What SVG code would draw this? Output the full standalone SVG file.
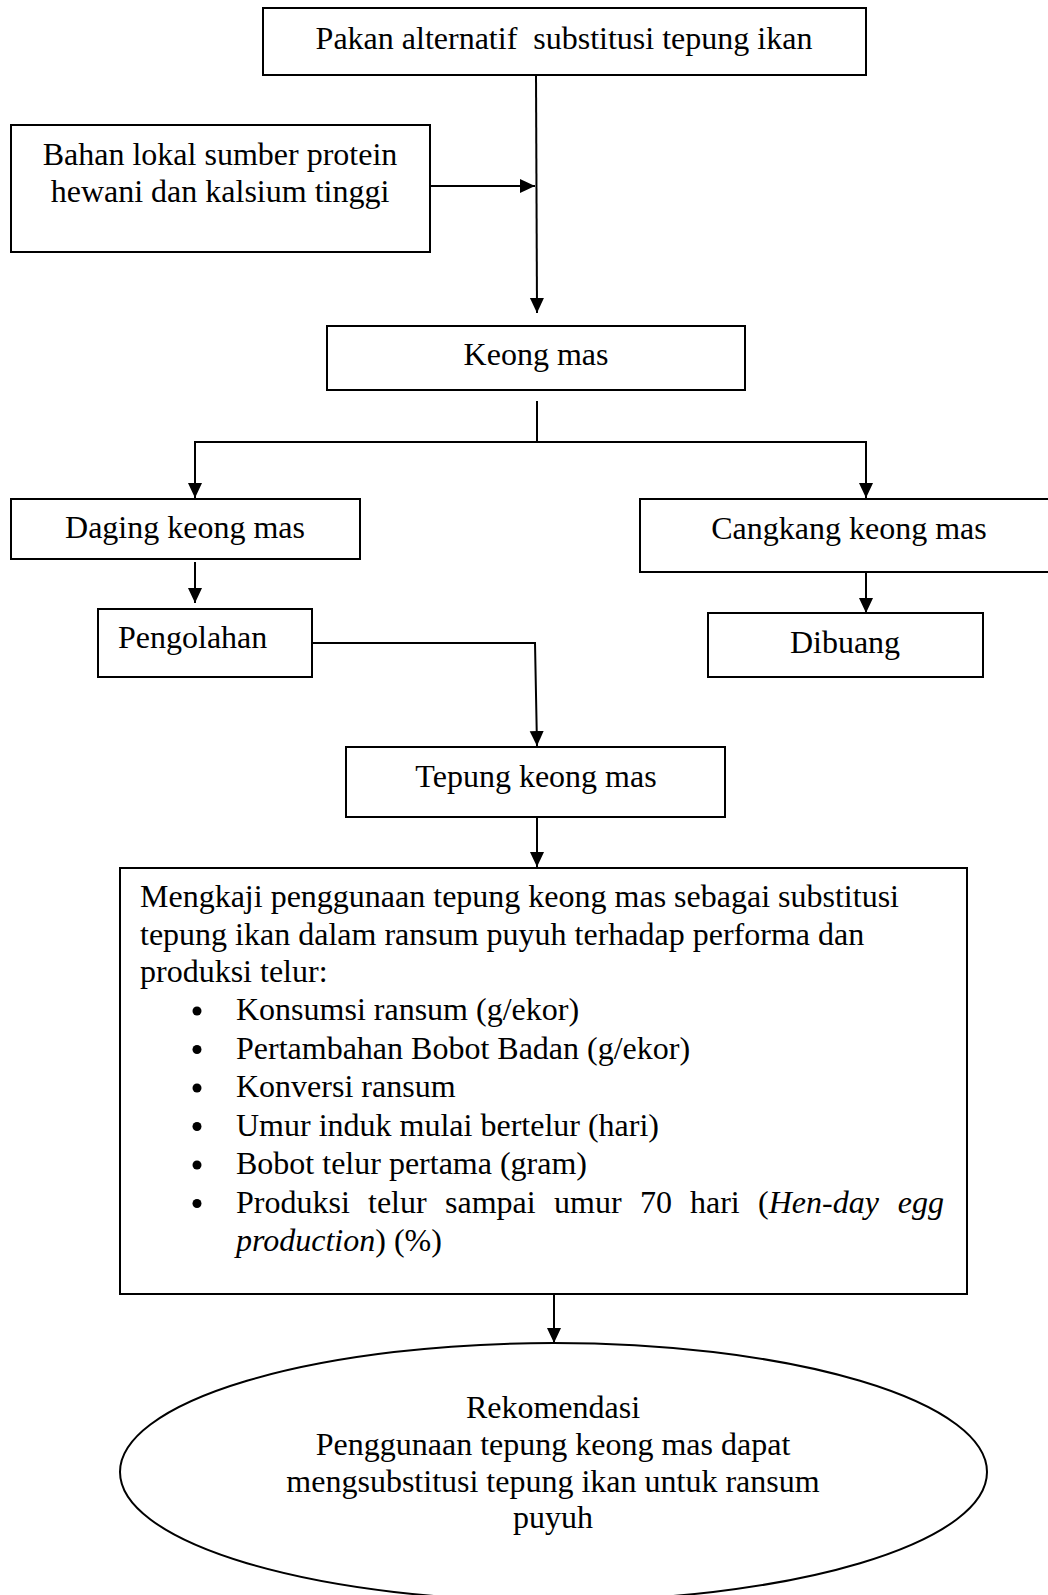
<svg xmlns="http://www.w3.org/2000/svg" width="1048" height="1595" viewBox="0 0 1048 1595">
<style>
.box{fill:#fff;stroke:#000;stroke-width:2}
.t{font-family:"Liberation Serif","Times New Roman",serif;font-size:32px;fill:#000}
.c{text-anchor:middle}
.ln{fill:none;stroke:#000;stroke-width:2}
</style>
<defs>
<marker id="ah" markerUnits="userSpaceOnUse" markerWidth="16" markerHeight="16" refX="15" refY="7" orient="auto">
<path d="M0,0 L15,7 L0,14 Z" fill="#000"/>
</marker>
</defs>
<rect width="1048" height="1595" fill="#fff"/>
<g id="connectors">
<line class="ln" x1="536" y1="75" x2="537" y2="313" marker-end="url(#ah)"/>
<line class="ln" x1="430" y1="186" x2="535" y2="186" marker-end="url(#ah)"/>
<line class="ln" x1="537" y1="401" x2="537" y2="442"/>
<polyline class="ln" points="195,442 866,442"/>
<line class="ln" x1="195" y1="441" x2="195" y2="498" marker-end="url(#ah)"/>
<line class="ln" x1="866" y1="441" x2="866" y2="498" marker-end="url(#ah)"/>
<line class="ln" x1="195" y1="562" x2="195" y2="603" marker-end="url(#ah)"/>
<line class="ln" x1="866" y1="572" x2="866" y2="613" marker-end="url(#ah)"/>
<polyline class="ln" points="312,643 535,643 537,746" marker-end="url(#ah)"/>
<line class="ln" x1="537" y1="817" x2="537" y2="867" marker-end="url(#ah)"/>
<line class="ln" x1="554" y1="1294" x2="554" y2="1343" marker-end="url(#ah)"/>
</g>
<g id="n1">
<rect class="box" x="263" y="8" width="603" height="67"/>
<text class="t c" x="564" y="49" xml:space="preserve">Pakan alternatif  substitusi tepung ikan</text>
</g>
<g id="n2">
<rect class="box" x="11" y="125" width="419" height="127"/>
<text class="t c" x="220" y="165">Bahan lokal sumber protein</text>
<text class="t c" x="220" y="202">hewani dan kalsium tinggi</text>
</g>
<g id="n3">
<rect class="box" x="327" y="326" width="418" height="64"/>
<text class="t c" x="536" y="365">Keong mas</text>
</g>
<g id="n4">
<rect class="box" x="11" y="499" width="349" height="60"/>
<text class="t c" x="185" y="538">Daging keong mas</text>
</g>
<g id="n5">
<rect class="box" x="640" y="499" width="412" height="73"/>
<text class="t c" x="849" y="539">Cangkang keong mas</text>
</g>
<g id="n6">
<rect class="box" x="98" y="609" width="214" height="68"/>
<text class="t" x="118" y="648">Pengolahan</text>
</g>
<g id="n7">
<rect class="box" x="708" y="613" width="275" height="64"/>
<text class="t c" x="845" y="653">Dibuang</text>
</g>
<g id="n8">
<rect class="box" x="346" y="747" width="379" height="70"/>
<text class="t c" x="536" y="787">Tepung keong mas</text>
</g>
<g id="n9">
<rect class="box" x="120" y="868" width="847" height="426"/>
<text class="t" x="140" y="907">Mengkaji penggunaan tepung keong mas sebagai substitusi</text>
<text class="t" x="140" y="945">tepung ikan dalam ransum puyuh terhadap performa dan</text>
<text class="t" x="140" y="982">produksi telur:</text>
<g fill="#000">
<circle cx="197" cy="1011" r="4.5"/>
<circle cx="197" cy="1049.5" r="4.5"/>
<circle cx="197" cy="1088" r="4.5"/>
<circle cx="197" cy="1126.5" r="4.5"/>
<circle cx="197" cy="1165" r="4.5"/>
<circle cx="197" cy="1203.5" r="4.5"/>
</g>
<text class="t" x="236" y="1020">Konsumsi ransum (g/ekor)</text>
<text class="t" x="236" y="1058.5">Pertambahan Bobot Badan (g/ekor)</text>
<text class="t" x="236" y="1097">Konversi ransum</text>
<text class="t" x="236" y="1135.5">Umur induk mulai bertelur (hari)</text>
<text class="t" x="236" y="1174">Bobot telur pertama (gram)</text>
<text class="t" y="1212.5"><tspan x="236">Produksi</tspan><tspan x="368">telur</tspan><tspan x="445">sampai</tspan><tspan x="554">umur</tspan><tspan x="640">70</tspan><tspan x="690">hari</tspan><tspan x="758">(<tspan font-style="italic">Hen-day</tspan></tspan></text>
<text class="t" x="944" y="1212.5" text-anchor="end" font-style="italic">egg</text>
<text class="t" x="236" y="1251"><tspan font-style="italic">production</tspan>) (%)</text>
</g>
<g id="n10">
<ellipse cx="553.5" cy="1472" rx="433.5" ry="129" fill="#fff" stroke="#000" stroke-width="2"/>
<text class="t c" x="553" y="1418">Rekomendasi</text>
<text class="t c" x="553" y="1455">Penggunaan tepung keong mas dapat</text>
<text class="t c" x="553" y="1492">mengsubstitusi tepung ikan untuk ransum</text>
<text class="t c" x="553" y="1528">puyuh</text>
</g>
</svg>
